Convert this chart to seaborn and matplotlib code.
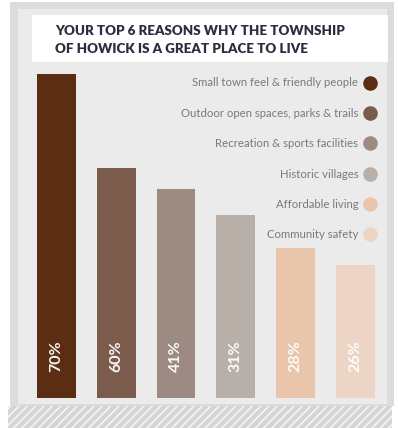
import matplotlib
matplotlib.use("Agg")
import matplotlib.pyplot as plt
import seaborn as sns
import pandas as pd
from matplotlib.patches import Rectangle
from matplotlib.lines import Line2D

# ---- data ----
reasons = [
    "Small town feel & friendly people",
    "Outdoor open spaces, parks & trails",
    "Recreation & sports facilities",
    "Historic villages",
    "Affordable living",
    "Community safety",
]
pct_labels = ["70%", "60%", "41%", "31%", "28%", "26%"]
# bar heights as drawn in the infographic (not to scale with labels)
bar_heights = [70, 49.8, 45.1, 39.5, 32.4, 28.7]
colors = ["#5b2e13", "#7b5c4c", "#9c8a83", "#b8afa9", "#e9c5ab", "#ecd5c5"]
title_lines = ["YOUR TOP 6 REASONS WHY THE TOWNSHIP",
               "OF HOWICK IS A GREAT PLACE TO LIVE"]

df = pd.DataFrame({"reason": reasons, "height": bar_heights})

sns.set_theme(style="white")
plt.rcParams['font.family'] = ['Lato', 'DejaVu Sans']
plt.rcParams['hatch.linewidth'] = 1.2

W, H = 398, 428
fig = plt.figure(figsize=(W / 100, H / 100), dpi=100)
fig.patch.set_facecolor('white')


def fx(x):
    return x / W


def fy(y):
    return 1 - y / H


def rect(x0, y0, x1, y1, **kw):
    r = Rectangle((fx(x0), fy(y1)), (x1 - x0) / W, (y1 - y0) / H,
                  transform=fig.transFigure, **kw)
    fig.add_artist(r)
    return r


# frame, panel, title box, hatched strip
rect(10, 2, 394, 406, facecolor='#dcdcdc', edgecolor='none', zorder=0)
rect(18, 9, 387, 404, facecolor='#ebebeb', edgecolor='none', zorder=0)
rect(32, 15, 388, 62, facecolor='white', edgecolor='none', zorder=1)
rect(8, 406, 392, 428, facecolor='#d4d4d4', edgecolor='#f4f4f4', hatch='////',
     linewidth=0, zorder=1)

for i, line in enumerate(title_lines):
    fig.text(fx(55), fy(31 + 18 * i), line, ha='left', va='center',
             fontsize=9.6, fontweight='heavy', color='#2b2f3d', zorder=3)

# bars
ax = fig.add_axes([fx(26.6), fy(398), 358.4 / W, 370 / H])
ax.patch.set_alpha(0)
sns.barplot(data=df, x="reason", y="height", hue="reason", palette=colors,
            width=0.65, saturation=1, legend=False, linewidth=0, ax=ax)
ax.set_xlim(-0.5, 5.5)
ax.set_ylim(0, 80)
ax.axis('off')

for patch, lab in zip(ax.patches, pct_labels):
    ax.text(patch.get_x() + patch.get_width() / 2, 9, lab, rotation=90,
            ha='center', va='center', color='white', fontsize=11.5,
            fontweight='bold', alpha=0.95)

handles = [Line2D([], [], marker='o', linestyle='none', markersize=10.5,
                  markerfacecolor=c, markeredgecolor='none') for c in colors]
leg = ax.legend(handles, reasons, loc='upper right',
                bbox_to_anchor=(fx(376), fy(77.5)), bbox_transform=fig.transFigure,
                markerfirst=False, frameon=False, fontsize=8.2,
                labelspacing=1.7, handletextpad=0.55, borderaxespad=0,
                borderpad=0, handlelength=1.0, labelcolor='#7a7a7a')

fig.savefig("out.png", dpi=100)
